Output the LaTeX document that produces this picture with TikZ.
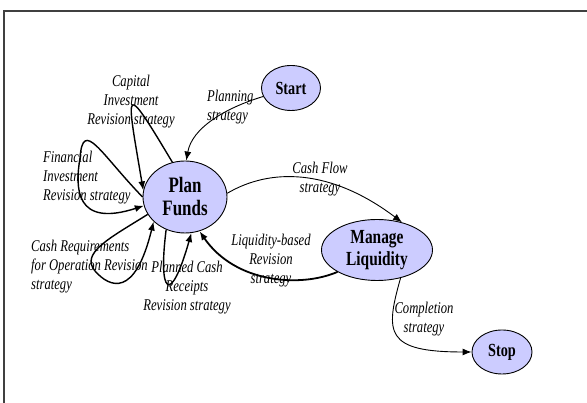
\documentclass[tikz,border=0pt]{standalone}
\usepackage{fontspec}
\setmainfont{Liberation Serif}[FakeStretch=0.77]
\usetikzlibrary{shapes.geometric, arrows.meta}
\definecolor{statefill}{HTML}{CCCCFF}
\definecolor{framegray}{HTML}{404040}
\tikzstyle{state_op} = [ellipse, draw=black, fill=statefill, line width=0.9pt, inner sep=0pt, align=center]
\tikzstyle{strategy_lbl} = [font=\itshape\fontsize{16.4}{19}\selectfont, inner sep=0pt]
\tikzstyle{flow} = [-{Latex[length=9pt,width=7pt]}, line width=0.9pt]
\tikzstyle{loop_flow} = [flow, line width=1.4pt]

\begin{document}
\begin{tikzpicture}[x=1pt, y=1pt]
\useasboundingbox (0,0) rectangle (587,403);
% frame
\draw[framegray, line width=1.2pt] (587,392) -- (4,392) -- (4,0);

% states
\node (start) [state_op, minimum width=59pt, minimum height=45pt, font=\bfseries\fontsize{18.5}{20}\selectfont] at (291,315) {Start};
\node (plan) [state_op, minimum width=84pt, minimum height=72pt, font=\bfseries\fontsize{22}{23}\selectfont] at (185,206) {Plan\\Funds};
\node (manage) [state_op, minimum width=111pt, minimum height=61pt, font=\bfseries\fontsize{20}{22}\selectfont] at (377,153) {Manage\\Liquidity};
\node (stop) [state_op, minimum width=60pt, minimum height=44pt, font=\bfseries\fontsize{18.5}{20}\selectfont] at (502,51) {Stop};

% labels
\node (t_capital) [strategy_lbl, align=center] at (131,301) {Capital\\Investment\\Revision strategy};
\node (t_planning) [strategy_lbl, align=left, anchor=west] at (207,296) {Planning\\strategy};
\node (t_financial) [strategy_lbl, align=left, anchor=west] at (43,225) {Financial\\Investment\\Revision strategy};
\node (t_cashreq) [strategy_lbl, align=left, anchor=west] at (31,136) {Cash Requirements\\for Operation Revision\\strategy};
\node (t_receipts) [strategy_lbl, align=center] at (187,115) {Planned Cash\\Receipts\\Revision strategy};
\node (t_cashflow) [strategy_lbl, align=center] at (320,224) {Cash Flow\\strategy};
\node (t_liquidity) [strategy_lbl, align=center] at (271,142) {Liquidity-based\\Revision\\strategy};
\node (t_completion) [strategy_lbl, align=center] at (424,84) {Completion\\strategy};

% transitions
\draw[flow] (start.197) .. controls (225,295) and (192,275) .. (plan.88);
\draw[flow] (plan.5) .. controls (270,235) and (330,235) .. (manage.48);
\draw[flow] (manage.310) .. controls (385,70) and (385,51) .. (stop.west);
\draw[loop_flow, line width=1.8pt] (manage.209) .. controls (300,115) and (235,120) .. (plan.293);

% revision loops
\draw[loop_flow] (plan.110) .. controls (122,325) and (126,315) .. (plan.171);
\draw[loop_flow] (plan.west) .. controls (100,250) and (83,285) .. (80,245) .. controls (75,215) and (75,175) .. (plan.192);
\draw[loop_flow] (plan.205) .. controls (110,165) and (80,150) .. (95,132) .. controls (110,115) and (135,105) .. (plan.218);
\draw[loop_flow] (plan.240) .. controls (158,110) and (170,95) .. (plan.280);
\end{tikzpicture}
\end{document}
